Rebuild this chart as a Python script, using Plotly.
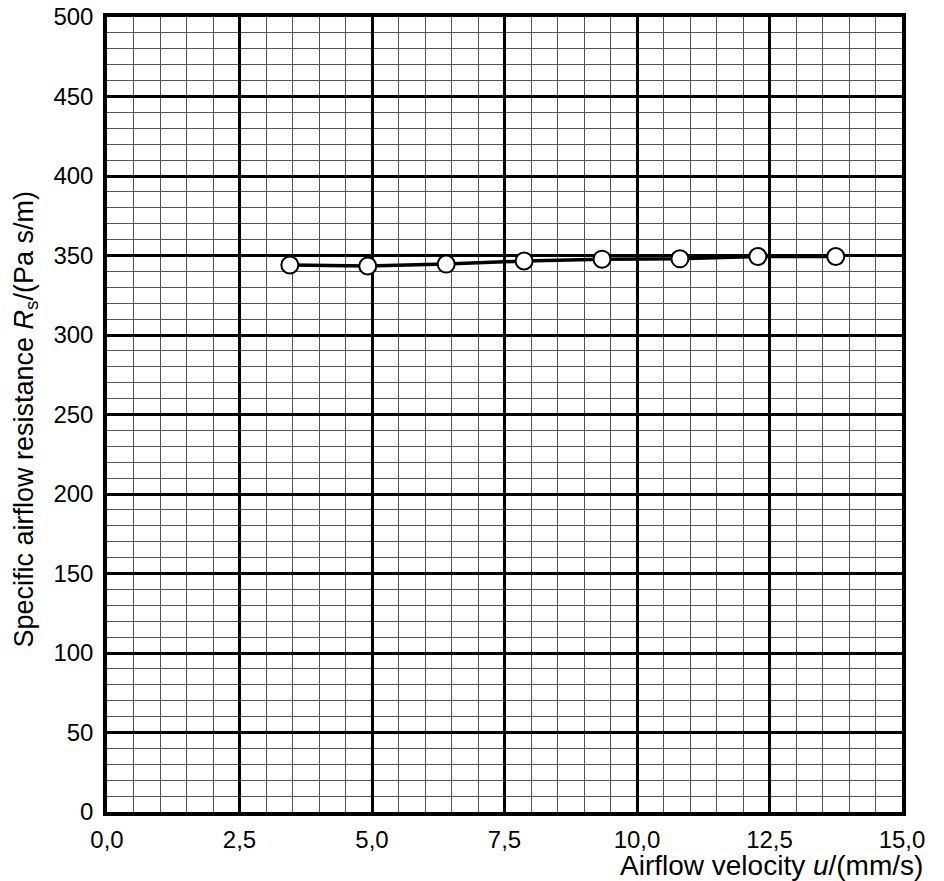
import plotly.graph_objects as go

# Data
velocity = [3.45, 4.92, 6.40, 7.87, 9.34, 10.81, 12.28, 13.75]
resistance = [344.0, 343.4, 344.6, 346.5, 347.7, 347.9, 349.4, 349.4]

x_ticks = [0, 2.5, 5, 7.5, 10, 12.5, 15]
x_ticklabels = ["0,0", "2,5", "5,0", "7,5", "10,0", "12,5", "15,0"]
y_ticks = [0, 50, 100, 150, 200, 250, 300, 350, 400, 450, 500]
y_ticklabels = [str(v) for v in y_ticks]

font_family = "Liberation Sans, Arial, sans-serif"

fig = go.Figure()
fig.add_trace(go.Scatter(
    x=velocity, y=resistance, mode="lines+markers",
    line=dict(color="black", width=3.5),
    marker=dict(size=17, color="white", line=dict(color="black", width=2)),
    showlegend=False, cliponaxis=False,
))

fig.update_layout(
    width=936, height=873,
    margin=dict(l=99, r=42, t=9, b=69, autoexpand=False),
    paper_bgcolor="white", plot_bgcolor="white",
    font=dict(family=font_family, size=24, color="black"),
    xaxis=dict(
        range=[0, 15], tickvals=x_ticks, ticktext=x_ticklabels,
        showgrid=True, gridcolor="black", gridwidth=3,
        minor=dict(dtick=0.5, showgrid=True, gridcolor="#555555", gridwidth=1, ticks=""),
        showline=True, linecolor="black", linewidth=3.5, mirror=True,
        ticks="", zeroline=False, tickfont=dict(size=24),
        automargin=False, ticklabelstandoff=3, ticklabeloverflow="allow",
    ),
    yaxis=dict(
        range=[0, 500], tickvals=y_ticks, ticktext=y_ticklabels,
        showgrid=True, gridcolor="black", gridwidth=3,
        minor=dict(dtick=10, showgrid=True, gridcolor="#555555", gridwidth=1, ticks=""),
        showline=True, linecolor="black", linewidth=3.5, mirror=True,
        ticks="", zeroline=False, tickfont=dict(size=24),
        automargin=False, ticklabelstandoff=5, ticklabeloverflow="allow",
    ),
    annotations=[
        dict(
            text="Airflow velocity <i>u</i>/(mm/s)", xref="paper", yref="paper",
            x=1, y=0, xanchor="right", yanchor="middle", xshift=23, yshift=-53,
            showarrow=False, font=dict(size=28),
        ),
        dict(
            text="Specific airflow resistance <i>R</i><sub>s</sub>/(Pa s/m)",
            xref="paper", yref="paper", x=0, y=0.5, xanchor="center", yanchor="middle",
            xshift=-82, yshift=-5, textangle=-90,
            showarrow=False, font=dict(size=27),
        ),
    ],
)

fig.write_html("out.html")
